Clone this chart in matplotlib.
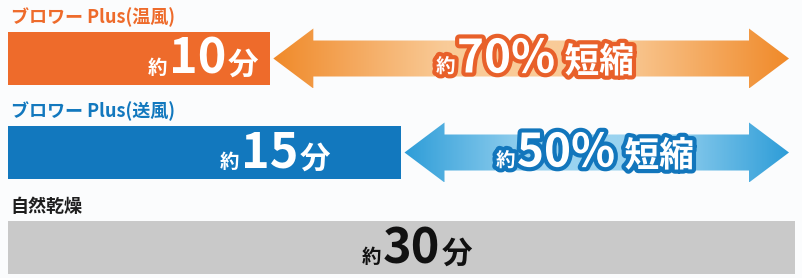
import numpy as np
import matplotlib
matplotlib.use("Agg")
import matplotlib.pyplot as plt
from matplotlib.patches import Polygon, Rectangle
from matplotlib.colors import LinearSegmentedColormap
from matplotlib.offsetbox import TextArea, HPacker, AnnotationBbox
import matplotlib.patheffects as pe

plt.rcParams['font.family'] = ['Noto Sans CJK JP', 'DejaVu Sans']

# data
labels = ['ブロワー Plus(温風)', 'ブロワー Plus(送風)', '自然乾燥']
minutes = [10, 15, 30]
reduction = [70, 50]   # % shorter than natural drying

# styles
bar_colors = ['#EE6B2B', '#1278BE', '#C9C9C9']
label_colors = ['#EE6B2B', '#1278BE', '#1E1E1E']
value_colors = ['white', 'white', '#111111']
arrow_dark = ['#F08A2A', '#2E9DD8']
arrow_light = ['#F9CB98', '#9AD3F0']
outline = ['#E8602A', '#1276BC']

bar_top = [32, 126, 221]    # pixel rows of the bar tops
bar_h = 53

fig = plt.figure(figsize=(8.03, 2.78), dpi=100)
fig.patch.set_facecolor('#FBFCFD')
ax = fig.add_axes([0, 0, 1, 1])
full = max(minutes)
# 8px left margin, full bar ends at x=795
ax.set_xlim(-8 * full / 787, (803 - 8) * full / 787)
ax.set_ylim(278, 0)
ax.axis('off')
px = full / 787.0  # minutes per pixel


def rich(parts, xy, align, ax):
    # parts: list of (text, size, color, effects)
    boxes = []
    for t, s, c, fx in parts:
        boxes.append(TextArea(t, textprops=dict(size=s, color=c, weight='bold',
                                                path_effects=fx)))
    pack = HPacker(children=boxes, align='baseline', pad=0, sep=1)
    ab = AnnotationBbox(pack, xy, xycoords='data', box_alignment=align,
                        frameon=False, pad=0)
    ax.add_artist(ab)


for i in range(3):
    ax.add_patch(Rectangle((0, bar_top[i]), minutes[i], bar_h,
                           color=bar_colors[i], lw=0))
    ax.text(0.1, bar_top[i] - 5, labels[i], color=label_colors[i],
            size=13, weight='bold', va='bottom', ha='left')

# value labels inside bars
val_pos = [(minutes[0] - 12 * px, (1, 0.5)),
           ((275 - 8) * px, (0.5, 0.5)),
           ((417 - 8) * px, (0.5, 0.5))]
for i in range(3):
    c = value_colors[i]
    x, al = val_pos[i]
    rich([('約', 14, c, None), (str(minutes[i]), 35, c, None), ('分', 22, c, None)],
         (x, bar_top[i] + bar_h / 2 + 1), al, ax)

# double arrows with gradient fill
for i in range(2):
    cy = bar_top[i] + bar_h / 2
    x0 = minutes[i] + 3 * px
    x1 = full - 6 * px
    hl = 40 * px
    sh, hh = 18, 30
    verts = [(x0, cy), (x0 + hl, cy - hh), (x0 + hl, cy - sh), (x1 - hl, cy - sh),
             (x1 - hl, cy - hh), (x1, cy), (x1 - hl, cy + hh), (x1 - hl, cy + sh),
             (x0 + hl, cy + sh), (x0 + hl, cy + hh)]
    poly = Polygon(verts, closed=True, facecolor='none', edgecolor='none')
    ax.add_patch(poly)
    cmap = LinearSegmentedColormap.from_list('g', [arrow_dark[i], arrow_light[i],
                                                   arrow_light[i], arrow_dark[i]])
    grad = np.linspace(0, 1, 256).reshape(1, -1)
    im = ax.imshow(grad, cmap=cmap, aspect='auto',
                   extent=(x0, x1, cy + hh, cy - hh), interpolation='bicubic')
    im.set_clip_path(poly)

    fx = [pe.withStroke(linewidth=6, foreground=outline[i])]
    cx = [(535 - 8) * px, (595 - 8) * px][i]
    rich([('約', 14, 'white', fx), ('%d%%' % reduction[i], 33, 'white', fx),
          (' 短縮', 25, 'white', fx)], (cx, cy + 1), (0.5, 0.5), ax)

fig.savefig('out.png', dpi=100, facecolor=fig.get_facecolor())
